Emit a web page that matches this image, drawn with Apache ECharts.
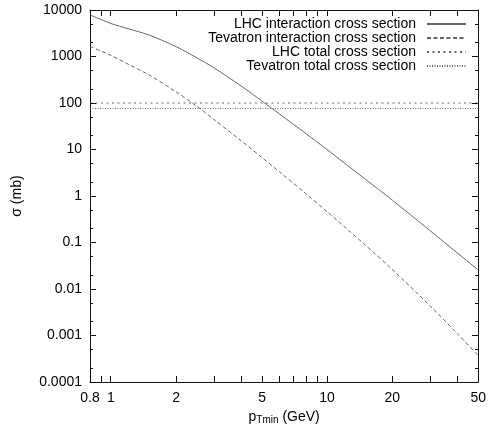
<!DOCTYPE html>
<html>
<head>
<meta charset="utf-8">
<script src="https://cdn.jsdelivr.net/npm/echarts@6/dist/echarts.min.js"></script>
<style>
html, body { margin: 0; padding: 0; background: #fff; }
#chart { width: 489px; height: 430px; }
</style>
</head>
<body>
<div id="chart"></div>
<script>
// pT min (GeV) and cross sections (mb)
var ptMin = [0.8, 0.9, 1, 1.2, 1.5, 2, 2.5, 3, 4, 5, 6, 8, 10, 15, 20, 30, 40, 50]
var lhcInteraction = [7820, 6250, 5120, 3960, 2900, 1630, 933, 569, 233, 110, 58.7, 21.8, 9.95, 2.31, 0.82, 0.179, 0.060, 0.0257]
var tevInteraction = [1660, 1310, 1060, 686, 402, 174, 85, 44, 15.5, 6.7, 3.36, 1.11, 0.46, 0.089, 0.0265, 0.0043, 0.00111, 0.00037]
var lhcTotal = 100
var tevTotal = 76

var xTicks = [0.8, 0.9, 1, 2, 3, 4, 5, 6, 7, 8, 9, 10, 20, 30, 40, 50]
var xLabels = [0.8, 1, 2, 5, 10, 20, 50]
var yMajor = [0.0001, 0.001, 0.01, 0.1, 1, 10, 100, 1000, 10000]
var yMinor = [0.0002, 0.0005, 0.002, 0.005, 0.02, 0.05, 0.2, 0.5, 2, 5, 20, 50, 200, 500, 2000, 5000]

var xMin = 0.8, xMax = 50, yMin = 0.0001, yMax = 10000
var font = '"Liberation Sans", Arial, Helvetica, sans-serif'
var axisColor = '#111'
var curveColor = '#666'
var seriesNames = ['LHC interaction cross section', 'Tevatron interaction cross section',
    'LHC total cross section', 'Tevatron total cross section']

function pairs(xs, ys) {
    return xs.map(function (x, i) { return [x, ys[i]] })
}
function flat(v) {
    return [[xMin, v], [xMax, v]]
}
function fmt(v) {
    return String(+Number(v).toPrecision(6))
}

function xAx(pos, withLabels) {
    return {
        type: 'log',
        logBase: 10,
        min: xMin,
        max: xMax,
        position: pos,
        axisLine: { show: true, onZero: false, lineStyle: { color: axisColor, width: 1 } },
        axisTick: { show: false },
        axisLabel: {
            show: withLabels,
            customValues: xLabels,
            formatter: fmt,
            color: '#000',
            fontSize: 14,
            fontFamily: font,
            margin: 9
        },
        splitLine: { show: false },
        minorTick: { show: false },
        name: withLabels ? '{p|p}{s|Tmin} (GeV)' : '',
        nameLocation: 'middle',
        nameGap: 19,
        nameTextStyle: {
            color: '#000',
            fontSize: 14,
            fontFamily: font,
            rich: {
                p: { fontSize: 14, fontFamily: font, color: '#000' },
                s: { fontSize: 10, fontFamily: font, color: '#000', padding: [6, 0, 0, 0] }
            }
        }
    }
}

function yAx(pos, withLabels) {
    return {
        type: 'log',
        logBase: 10,
        min: yMin,
        max: yMax,
        position: pos,
        axisLine: { show: true, onZero: false, lineStyle: { color: axisColor, width: 1 } },
        axisTick: { show: false },
        axisLabel: {
            show: withLabels,
            customValues: yMajor,
            formatter: fmt,
            color: '#000',
            fontSize: 14,
            fontFamily: font,
            margin: 8
        },
        splitLine: { show: false },
        minorTick: { show: false },
        name: withLabels ? 'σ (mb)' : '',
        nameLocation: 'middle',
        nameGap: 66,
        nameRotate: 90,
        nameTextStyle: { color: '#000', fontSize: 14, fontFamily: font }
    }
}

var chart = echarts.init(document.getElementById('chart'))
var option = {
    animation: false,
    grid: { left: 90, right: 5, top: 10, bottom: 46, containLabel: false },
    legend: {
        data: seriesNames,
        orient: 'vertical',
        right: 22,
        top: 17,
        padding: 0,
        align: 'right',
        itemWidth: 39,
        itemHeight: 8,
        itemGap: 0,
        selectedMode: false,
        itemStyle: { opacity: 0, color: 'transparent', borderWidth: 0 },
        textStyle: { fontSize: 14, fontFamily: font, color: '#000', lineHeight: 13.5, padding: [0, 6, 0, 0] }
    },
    xAxis: [xAx('bottom', true), xAx('top', false)],
    yAxis: [yAx('left', true), yAx('right', false)],
    series: [
        {
            name: seriesNames[0],
            type: 'line',
            symbol: 'none',
            smooth: 0.3,
            lineStyle: { color: curveColor, width: 1, type: 'solid' },
            itemStyle: { color: curveColor },
            data: pairs(ptMin, lhcInteraction)
        },
        {
            name: seriesNames[1],
            type: 'line',
            symbol: 'none',
            smooth: 0.3,
            lineStyle: { color: curveColor, width: 1, type: [4, 2.5] },
            itemStyle: { color: curveColor },
            data: pairs(ptMin, tevInteraction)
        },
        {
            name: seriesNames[2],
            type: 'line',
            symbol: 'none',
            lineStyle: { color: curveColor, width: 1, type: [2, 3.5] },
            itemStyle: { color: curveColor },
            data: flat(lhcTotal)
        },
        {
            name: seriesNames[3],
            type: 'line',
            symbol: 'none',
            lineStyle: { color: curveColor, width: 1, type: [1, 1.5] },
            itemStyle: { color: curveColor },
            data: flat(tevTotal)
        }
    ]
}
chart.setOption(option)

// inward tick marks on all four sides, placed through the chart's own axes
function toPx(x, y) {
    return chart.convertToPixel({ xAxisIndex: 0, yAxisIndex: 0 }, [x, y])
}
function tickRect(x, y, w, h) {
    return {
        type: 'rect',
        silent: true,
        z: 10,
        shape: { x: x, y: y, width: w, height: h },
        style: { fill: axisColor }
    }
}
var ticks = []
xTicks.forEach(function (v) {
    var a = toPx(v, yMin), b = toPx(v, yMax)
    var x = Math.round(a[0] - 0.5)
    ticks.push(tickRect(x, Math.round(a[1]) - 6, 1, 6))
    ticks.push(tickRect(x, Math.round(b[1]), 1, 6))
})
function addYTicks(values, len) {
    values.forEach(function (v) {
        var c = toPx(xMin, v), d = toPx(xMax, v)
        var y = Math.round(c[1] - 0.5)
        ticks.push(tickRect(Math.round(c[0]), y, len, 1))
        ticks.push(tickRect(Math.round(d[0]) - len, y, len, 1))
    })
}
addYTicks(yMajor, 6)
addYTicks(yMinor, 3)
chart.setOption({ graphic: { elements: ticks } })
</script>
</body>
</html>
